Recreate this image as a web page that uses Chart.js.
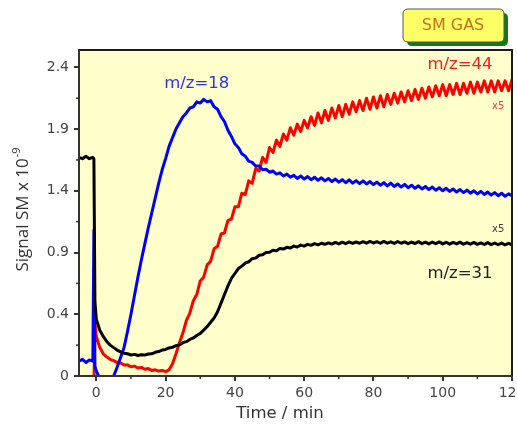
<!DOCTYPE html>
<html>
<head>
<meta charset="utf-8">
<script src="https://cdn.jsdelivr.net/npm/chart.js@4"></script>
<style>
  html, body { margin: 0; padding: 0; background: #fff; }
</style>
</head>
<body>
<canvas id="smChart" width="517" height="429"></canvas>
<script>
// ==================== DATA ====================
var timeMin = [
  -5, -4, -3, -2, -1, -0.7, -0.4,
  0, 1, 2, 3, 4, 5, 6, 7, 8, 9,
  10, 11, 12, 13, 14, 15, 16, 17, 18, 19,
  20, 21, 22, 23, 24, 25, 26, 27, 28, 29,
  30, 31, 32, 33, 34, 35, 36, 37, 38, 39,
  40, 41, 42, 43, 44, 45, 46, 47, 48, 49,
  50, 51, 52, 53, 54, 55, 56, 57, 58, 59,
  60, 61, 62, 63, 64, 65, 66, 67, 68, 69,
  70, 71, 72, 73, 74, 75, 76, 77, 78, 79,
  80, 81, 82, 83, 84, 85, 86, 87, 88, 89,
  90, 91, 92, 93, 94, 95, 96, 97, 98, 99,
  100, 101, 102, 103, 104, 105, 106, 107, 108, 109,
  110, 111, 112, 113, 114, 115, 116, 117, 118, 119,
  120
];

// m/z=31 (black, x5)
var sigM31 = [
  1.67, 1.66, 1.68, 1.66, 1.67, 1.66, 0.5,
  0.36, 0.27, 0.22, 0.18, 0.15, 0.13, 0.11, 0.095, 0.085, 0.08,
  0.07, 0.075, 0.066, 0.072, 0.07, 0.078, 0.08, 0.092, 0.098, 0.11,
  0.115, 0.127, 0.132, 0.146, 0.152, 0.17, 0.178, 0.196, 0.208, 0.228,
  0.245, 0.272, 0.3, 0.335, 0.37, 0.42, 0.49, 0.56, 0.63, 0.69,
  0.73, 0.77, 0.79, 0.815, 0.825, 0.85, 0.855, 0.878, 0.882, 0.9,
  0.902, 0.918, 0.915, 0.932, 0.928, 0.942, 0.936, 0.952, 0.945, 0.96,
  0.952, 0.966, 0.958, 0.972, 0.962, 0.975, 0.966, 0.978, 0.968, 0.982,
  0.97, 0.984, 0.972, 0.986, 0.974, 0.985, 0.975, 0.988, 0.976, 0.99,
  0.977, 0.988, 0.975, 0.99, 0.976, 0.987, 0.974, 0.989, 0.975, 0.986,
  0.972, 0.985, 0.973, 0.988, 0.972, 0.984, 0.97, 0.985, 0.972, 0.986,
  0.97, 0.983, 0.968, 0.982, 0.97, 0.984, 0.967, 0.98, 0.968, 0.982,
  0.966, 0.978, 0.965, 0.98, 0.964, 0.977, 0.963, 0.976, 0.962, 0.974,
  0.963
];

// m/z=18 (blue)
var sigM18 = [
  0.02, 0.035, 0.01, 0.03, 0.02, 1.08, -0.02,
  -0.06, -0.12, -0.15, -0.15, -0.15, -0.1, -0.03, 0.05, 0.13, 0.26,
  0.4, 0.55, 0.7, 0.84, 0.97, 1.1, 1.22, 1.34, 1.46, 1.57,
  1.66, 1.76, 1.83, 1.9, 1.95, 2.0, 2.03, 2.07, 2.08, 2.12,
  2.11, 2.14, 2.12, 2.13, 2.08, 2.06, 2.0, 1.96, 1.89, 1.84,
  1.78, 1.75, 1.7, 1.68, 1.64, 1.63, 1.6, 1.6, 1.57, 1.575,
  1.55, 1.56, 1.535, 1.545, 1.52, 1.535, 1.51, 1.525, 1.5, 1.52,
  1.495, 1.515, 1.49, 1.51, 1.485, 1.505, 1.48, 1.5, 1.475, 1.495,
  1.47, 1.49, 1.465, 1.488, 1.462, 1.482, 1.458, 1.48, 1.455, 1.475,
  1.45, 1.47, 1.445, 1.466, 1.44, 1.462, 1.435, 1.455, 1.43, 1.452,
  1.425, 1.445, 1.42, 1.44, 1.415, 1.435, 1.41, 1.43, 1.405, 1.425,
  1.4, 1.42, 1.395, 1.415, 1.39, 1.41, 1.385, 1.405, 1.38, 1.4,
  1.375, 1.395, 1.37, 1.39, 1.365, 1.385, 1.36, 1.38, 1.355, 1.375,
  1.36
];

// m/z=44 (red, x5)
var sigM44 = [
  -0.2, -0.2, -0.2, -0.2, -0.2, -0.2, 0.33,
  0.22, 0.13, 0.08, 0.055, 0.035, 0.025, 0.01, 0.005, -0.01, -0.01,
  -0.025, -0.02, -0.035, -0.03, -0.045, -0.04, -0.055, -0.05, -0.06, -0.055,
  -0.065, -0.05, 0.0, 0.08, 0.17, 0.25, 0.35, 0.41, 0.51, 0.56,
  0.67, 0.7, 0.8, 0.83, 0.93, 0.95, 1.05, 1.06, 1.16, 1.17,
  1.27, 1.27, 1.38, 1.37, 1.48, 1.46, 1.58, 1.56, 1.67, 1.63,
  1.75, 1.71, 1.81, 1.76, 1.86, 1.81, 1.91, 1.85, 1.94, 1.88,
  1.97, 1.91, 2.0, 1.93, 2.03, 1.95, 2.05, 1.97, 2.07, 1.99,
  2.09, 2.0, 2.1, 2.02, 2.12, 2.04, 2.13, 2.05, 2.15, 2.06,
  2.16, 2.07, 2.17, 2.08, 2.18, 2.1, 2.19, 2.11, 2.2, 2.12,
  2.21, 2.13, 2.22, 2.14, 2.23, 2.15, 2.24, 2.16, 2.25, 2.17,
  2.26, 2.17, 2.26, 2.18, 2.27, 2.18, 2.27, 2.19, 2.28, 2.19,
  2.28, 2.2, 2.29, 2.2, 2.29, 2.2, 2.29, 2.21, 2.29, 2.21,
  2.3
];

var xTickVals = [0, 20, 40, 60, 80, 100, 120];
var xMinorTicks = [10, 30, 50, 70, 90, 110];
var yTickVals = [-0.1, 0.4, 0.9, 1.4, 1.9, 2.4];
var yTickLabels = ['0', '0.4', '0.9', '1.4', '1.9', '2.4'];
var yMinorTicks = [0.15, 0.65, 1.15, 1.65, 2.15];

// ==================== HELPERS ====================
function toPoints(vals) {
  return vals.map(function (v, i) { return { x: timeMin[i], y: v }; });
}

function roundRectPath(ctx, x, y, w, h, r) {
  ctx.beginPath();
  ctx.moveTo(x + r, y);
  ctx.lineTo(x + w - r, y);
  ctx.quadraticCurveTo(x + w, y, x + w, y + r);
  ctx.lineTo(x + w, y + h - r);
  ctx.quadraticCurveTo(x + w, y + h, x + w - r, y + h);
  ctx.lineTo(x + r, y + h);
  ctx.quadraticCurveTo(x, y + h, x, y + h - r);
  ctx.lineTo(x, y + r);
  ctx.quadraticCurveTo(x, y, x + r, y);
  ctx.closePath();
}

// ==================== PLUGIN (fondo, marco, rótulos) ====================
var plotDecor = {
  id: 'plotDecor',
  beforeDraw: function (chart) {
    var a = chart.chartArea, ctx = chart.ctx;
    ctx.save();
    ctx.fillStyle = '#ffffcc';
    ctx.fillRect(a.left, a.top, a.right - a.left, a.bottom - a.top);
    ctx.restore();
  },
  afterDraw: function (chart) {
    var a = chart.chartArea, ctx = chart.ctx;
    var xs = chart.scales.x, ys = chart.scales.y;
    ctx.save();

    // marco superior / derecho
    ctx.strokeStyle = '#1a1a1a';
    ctx.lineWidth = 2;
    ctx.beginPath();
    ctx.moveTo(a.left, a.top);
    ctx.lineTo(a.right, a.top);
    ctx.lineTo(a.right, a.bottom);
    ctx.stroke();
    // ejes
    ctx.strokeStyle = '#333';
    ctx.beginPath();
    ctx.moveTo(a.left, a.top);
    ctx.lineTo(a.left, a.bottom);
    ctx.lineTo(a.right, a.bottom);
    ctx.stroke();

    // ticks menores
    ctx.lineWidth = 1.5;
    xMinorTicks.forEach(function (v) {
      var px = xs.getPixelForValue(v);
      ctx.beginPath(); ctx.moveTo(px, a.bottom); ctx.lineTo(px, a.bottom + 3); ctx.stroke();
    });
    yMinorTicks.forEach(function (v) {
      var py = ys.getPixelForValue(v);
      ctx.beginPath(); ctx.moveTo(a.left, py); ctx.lineTo(a.left - 3, py); ctx.stroke();
    });

    // rótulos de series
    ctx.textAlign = 'center';
    ctx.textBaseline = 'middle';
    ctx.font = '16.5px "DejaVu Sans"';
    ctx.fillStyle = '#3030f0';
    ctx.fillText('m/z=18', xs.getPixelForValue(29), ys.getPixelForValue(2.27));
    ctx.fillStyle = '#f02020';
    ctx.fillText('m/z=44', xs.getPixelForValue(105), ys.getPixelForValue(2.42));
    ctx.fillStyle = '#202020';
    ctx.fillText('m/z=31', xs.getPixelForValue(105), ys.getPixelForValue(0.73));
    ctx.font = '10px "DejaVu Sans"';
    ctx.fillStyle = '#f04040';
    ctx.fillText('x5', xs.getPixelForValue(116), ys.getPixelForValue(2.08));
    ctx.fillStyle = '#404040';
    ctx.fillText('x5', xs.getPixelForValue(116), ys.getPixelForValue(1.09));

    // etiqueta SM GAS
    ctx.fillStyle = '#127a12';
    roundRectPath(ctx, 407, 13, 101, 33, 5);
    ctx.fill();
    ctx.fillStyle = '#ffff66';
    roundRectPath(ctx, 403, 9, 101, 33, 5);
    ctx.fill();
    ctx.strokeStyle = '#555';
    ctx.lineWidth = 1;
    ctx.stroke();
    ctx.fillStyle = '#c8701e';
    ctx.font = '16px "DejaVu Sans"';
    ctx.fillText('SM GAS', 453, 26);

    // título eje X
    ctx.fillStyle = '#333';
    ctx.font = '16.5px "DejaVu Sans"';
    ctx.fillText('Time / min', 280, 414);

    // título eje Y con superíndice
    ctx.translate(22, 210);
    ctx.rotate(-Math.PI / 2);
    ctx.textAlign = 'left';
    ctx.textBaseline = 'alphabetic';
    ctx.font = '17px "Open Sans"';
    var main = 'Signal SM x 10';
    var w1 = ctx.measureText(main).width;
    ctx.font = '11px "Open Sans"';
    var w2 = ctx.measureText('-9').width;
    var x0 = -(w1 + w2) / 2;
    ctx.font = '17px "Open Sans"';
    ctx.fillText(main, x0, 6);
    ctx.font = '11px "Open Sans"';
    ctx.fillText('-9', x0 + w1 + 1, -2);

    ctx.restore();
  }
};

// ==================== CHART ====================
Chart.defaults.font.family = '"DejaVu Sans"';

var smChart = new Chart(document.getElementById('smChart').getContext('2d'), {
  type: 'line',
  data: {
    datasets: [
      { label: 'm/z=31', data: toPoints(sigM31), borderColor: '#000000', borderWidth: 3 },
      { label: 'm/z=18', data: toPoints(sigM18), borderColor: '#0000ff', borderWidth: 3 },
      { label: 'm/z=44', data: toPoints(sigM44), borderColor: '#ff0000', borderWidth: 3 }
    ]
  },
  options: {
    responsive: false,
    animation: false,
    elements: {
      point: { radius: 0 },
      line: { tension: 0, borderJoinStyle: 'round', borderCapStyle: 'round' }
    },
    datasets: { line: { clip: 0 } },
    layout: { padding: { top: 50, right: 5, left: 0, bottom: 0 } },
    plugins: {
      legend: { display: false },
      tooltip: { enabled: false }
    },
    scales: {
      x: {
        type: 'linear',
        min: -5,
        max: 120,
        afterBuildTicks: function (axis) {
          axis.ticks = xTickVals.map(function (v) { return { value: v }; });
        },
        afterFit: function (axis) {
          axis.height = 53;
          axis.paddingLeft = 0;
          axis.paddingRight = 0;
        },
        ticks: {
          color: '#444',
          font: { size: 14 },
          padding: 4,
          maxRotation: 0,
          callback: function (v) { return String(v); }
        },
        grid: { drawOnChartArea: false, tickLength: 5, color: '#333', lineWidth: 2 },
        border: { display: true, color: '#333', width: 2 }
      },
      y: {
        type: 'linear',
        min: -0.1,
        max: 2.54,
        afterBuildTicks: function (axis) {
          axis.ticks = yTickVals.map(function (v) { return { value: v }; });
        },
        afterFit: function (axis) {
          axis.width = 79;
          axis.paddingTop = 0;
          axis.paddingBottom = 0;
        },
        ticks: {
          color: '#444',
          font: { size: 14 },
          padding: 5,
          callback: function (v, i) { return yTickLabels[i]; }
        },
        grid: { drawOnChartArea: false, tickLength: 5, color: '#333', lineWidth: 2 },
        border: { display: true, color: '#333', width: 2 }
      }
    }
  },
  plugins: [plotDecor]
});
</script>
</body>
</html>
